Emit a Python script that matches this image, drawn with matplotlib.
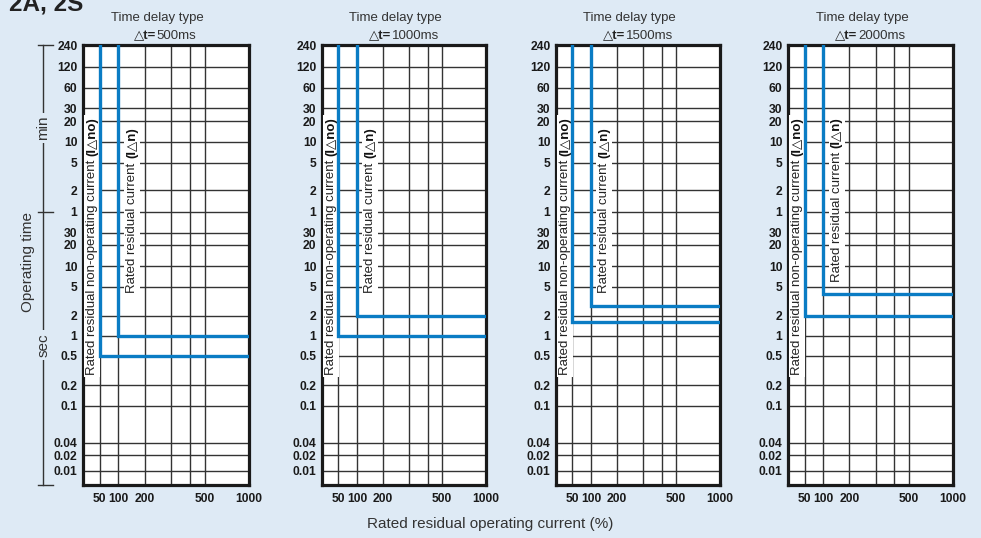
import numpy as np
import matplotlib
matplotlib.use('Agg')
import matplotlib.pyplot as plt
from matplotlib.lines import Line2D

plt.rcParams['font.family'] = ['Liberation Sans', 'DejaVu Sans']

# Data
delays_ms = [500, 1000, 1500, 2000]
ino_times = [0.5, 1, 1.6, 2]      # sec, non-operating current line (at 50 %)
in_times = [1, 2, 2.7, 4]         # sec, rated current line (at 100 %)
ino_current = 50
in_current = 100
max_current = 1000
max_time = 14400                  # 240 min in sec

# Tick values (in sec) and the labels printed on the chart
y_tick_vals = [14400, 7200, 3600, 1800, 1200, 600, 300, 120, 60,
               30, 20, 10, 5, 2, 1, 0.5, 0.2, 0.1, 0.04, 0.02, 0.01]
y_tick_labels = ['240', '120', '60', '30', '20', '10', '5', '2', '1',
                 '30', '20', '10', '5', '2', '1', '0.5', '0.2', '0.1', '0.04', '0.02', '0.01']
x_tick_vals = [50, 100, 200, 500, 1000]
x_minor_vals = [300, 400]

# The printed chart uses an uneven grid: knots of the scale (value -> axes fraction)
y_knot_vals = [0.005, 0.01, 0.02, 0.04, 0.1, 0.2, 0.5, 1, 2, 5, 10, 20, 30,
               60, 120, 300, 600, 1200, 1800, 3600, 7200, 14400]
y_knot_pos = [0.0, 0.031, 0.067, 0.095, 0.179, 0.226, 0.293, 0.338, 0.384, 0.450, 0.497,
              0.545, 0.573, 0.621, 0.669, 0.732, 0.780, 0.827, 0.856, 0.903, 0.951, 1.0]
x_knot_vals = [25, 50, 100, 200, 300, 400, 500, 1000]
x_knot_pos = [0.0, 0.100, 0.213, 0.372, 0.533, 0.645, 0.732, 1.0]


def make_scale(vals, pos):
    lv = np.log10(vals)
    p = np.array(pos)

    def fwd(v):
        return np.interp(np.log10(np.clip(v, 1e-9, None)), lv, p)

    def inv(q):
        return 10 ** np.interp(q, p, lv)
    return fwd, inv


bg = '#deeaf5'
blue = '#0a7cc4'
W, H = 981, 538
fig = plt.figure(figsize=(9.81, 5.38), dpi=100, facecolor=bg)

lefts = [83, 322, 556, 788]
rights = [249, 486, 720, 953]
top_px, bot_px = 45, 484.5
in_text_start = [0.436, 0.436, 0.436, 0.46]

tick_font = dict(fontsize=8.7, fontweight='bold', color='#1a1a1a')

for i, d in enumerate(delays_ms):
    ax = fig.add_axes([lefts[i] / W, 1 - bot_px / H, (rights[i] - lefts[i]) / W, (bot_px - top_px) / H])
    ax.set_facecolor('white')
    ax.set_xscale('function', functions=make_scale(x_knot_vals, x_knot_pos))
    ax.set_yscale('function', functions=make_scale(y_knot_vals, y_knot_pos))
    ax.set_xlim(x_knot_vals[0], x_knot_vals[-1])
    ax.set_ylim(y_knot_vals[0], y_knot_vals[-1])

    ax.set_xticks(x_tick_vals)
    ax.set_xticklabels([str(v) for v in x_tick_vals], **tick_font)
    ax.set_xticks(x_minor_vals, minor=True)
    ax.set_yticks(y_tick_vals)
    ax.set_yticklabels(y_tick_labels, **tick_font)
    ax.set_yticks([], minor=True)
    ax.tick_params(which='both', length=0)
    ax.tick_params(axis='y', pad=4)
    ax.tick_params(axis='x', pad=6)
    ax.set_axisbelow(True)
    ax.grid(True, which='both', color='#333333', linewidth=1.0)
    for s in ax.spines.values():
        s.set_linewidth(2.3)
        s.set_color('#1a1a1a')

    # blue characteristic lines
    ax.plot([ino_current, ino_current, max_current], [max_time, ino_times[i], ino_times[i]],
            color=blue, lw=2.4, zorder=4, solid_joinstyle='miter')
    ax.plot([in_current, in_current, max_current], [max_time, in_times[i], in_times[i]],
            color=blue, lw=2.4, zorder=4, solid_joinstyle='miter')

    # rotated labels next to the lines
    box = dict(facecolor='white', edgecolor='none', pad=1.5)
    t1 = ax.text(0.056, 0.249, 'Rated residual non-operating current', transform=ax.transAxes,
                 rotation=90, rotation_mode='anchor', ha='left', va='center',
                 fontsize=9.5, color='#222222', bbox=box, zorder=3)
    ax.annotate('(I\u25b3no)', xy=(0.5, 1), xycoords=t1, xytext=(0, 3), textcoords='offset points',
                rotation=90, rotation_mode='anchor', ha='left', va='center',
                fontsize=9.5, fontweight='bold', color='#111111', bbox=box, zorder=3)
    t2 = ax.text(0.295, in_text_start[i], 'Rated residual current', transform=ax.transAxes,
                 rotation=90, rotation_mode='anchor', ha='left', va='center',
                 fontsize=9.5, color='#222222', bbox=box, zorder=3)
    ax.annotate('(I\u25b3n)', xy=(0.5, 1), xycoords=t2, xytext=(0, 3), textcoords='offset points',
                rotation=90, rotation_mode='anchor', ha='left', va='center',
                fontsize=9.5, fontweight='bold', color='#111111', bbox=box, zorder=3)

    # header
    ax.text(0.45, 1.062, 'Time delay type', transform=ax.transAxes, ha='center', va='center',
            fontsize=9.5, color='#333333')
    xj = 0.44 if d < 1000 else 0.42
    ax.text(xj, 1.02, '\u25b3t=', transform=ax.transAxes, ha='right', va='center',
            fontsize=9.5, fontweight='bold', color='#222222')
    ax.text(xj + 0.004, 1.02, f'{d}ms', transform=ax.transAxes, ha='left', va='center',
            fontsize=9.5, color='#333333')


def fx(px):
    return px / W


def fy(py):
    return 1 - py / H


# left dimension line for min / sec
dim_x = 43.3
fig.add_artist(Line2D([fx(dim_x), fx(dim_x)], [fy(45), fy(485)], transform=fig.transFigure,
                      color='#333333', lw=1.0))
for yy in [45, 211.7, 485]:
    fig.add_artist(Line2D([fx(38), fx(53)], [fy(yy), fy(yy)], transform=fig.transFigure,
                          color='#333333', lw=1.0))
fig.text(fx(dim_x), fy(128), 'min', rotation=90, ha='center', va='center', fontsize=11,
         color='#333333', bbox=dict(facecolor=bg, edgecolor='none', pad=2))
fig.text(fx(dim_x), fy(345), 'sec', rotation=90, ha='center', va='center', fontsize=11,
         color='#333333', bbox=dict(facecolor=bg, edgecolor='none', pad=2))
fig.text(fx(28), fy(262), 'Operating time', rotation=90, ha='center', va='center',
         fontsize=11, color='#333333')

# titles
fig.text(fx(9), fy(11), '2A, 2S', ha='left', va='baseline', fontsize=17.5,
         fontweight='bold', color='#222222')
fig.text(fx(490), fy(524), 'Rated residual operating current (%)', ha='center', va='center',
         fontsize=11, color='#333333')

fig.savefig('out.png', dpi=100, facecolor=bg)
